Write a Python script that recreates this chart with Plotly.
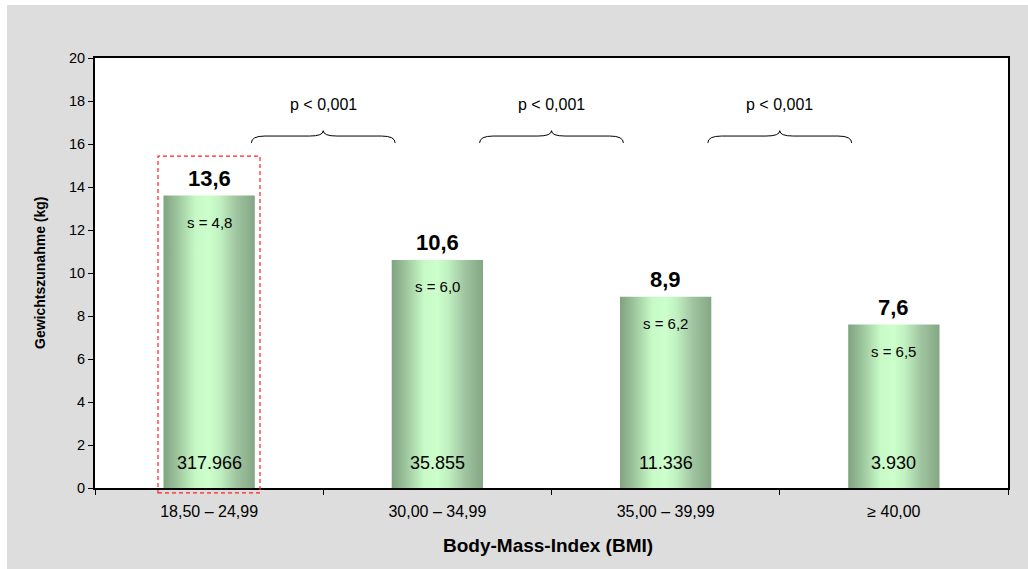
import plotly.graph_objects as go

# Data: mean weight gain per BMI group
categories = ["18,50 – 24,99", "30,00 – 34,99", "35,00 – 39,99", "≥ 40,00"]
mean_gain = [13.6, 10.6, 8.9, 7.6]
std_dev = [4.8, 6.0, 6.2, 6.5]
n_cases = [317966, 35855, 11336, 3930]
comparisons = [(0, 1), (1, 2), (2, 3)]
p_labels = ["p < 0,001", "p < 0,001", "p < 0,001"]
y_ticks = [0, 2, 4, 6, 8, 10, 12, 14, 16, 18, 20]

FONT = "Liberation Sans, Arial, sans-serif"
X_RANGE = (-0.5, 3.5)
Y_RANGE = (0, 20)
HALF_W = 0.2

# Page geometry (pixels)
WIDTH, HEIGHT = 1028, 569
M_L, M_R, M_T, M_B = 95, 20, 58, 81
W_PLOT, H_PLOT = WIDTH - M_L - M_R, HEIGHT - M_T - M_B


def de_num(v, nd=1):
    return f"{v:.{nd}f}".replace(".", ",")


def de_thousands(v):
    return f"{v:,}".replace(",", ".")


gradient = [
    [0.0, "#80a280"], [0.15, "#9cc49c"], [0.35, "#c6f9c6"], [0.5, "#ccffcc"],
    [0.62, "#c0f0c0"], [0.8, "#a0c4a0"], [1.0, "#84a684"],
]

fig = go.Figure()

# Bars drawn as filled polygons so each one can carry a horizontal gradient
for i, v in enumerate(mean_gain):
    x0, x1 = i - HALF_W, i + HALF_W
    fig.add_trace(go.Scatter(
        x=[x0, x1, x1, x0, x0], y=[0, 0, v, v, 0],
        mode="lines", fill="toself", line=dict(width=0),
        fillgradient=dict(type="horizontal", colorscale=gradient),
        hoverinfo="skip", showlegend=False,
    ))

annotations = []
for i, (v, s, n) in enumerate(zip(mean_gain, std_dev, n_cases)):
    annotations.append(dict(x=i, y=v, xref="x", yref="y", text=f"<b>{de_num(v)}</b>",
                            showarrow=False, yanchor="bottom", yshift=3,
                            font=dict(family=FONT, size=22, color="black")))
    annotations.append(dict(x=i, y=v, xref="x", yref="y", text=f"s = {de_num(s)}",
                            showarrow=False, yanchor="top", yshift=-16,
                            font=dict(family=FONT, size=15, color="black")))
    annotations.append(dict(x=i, y=0, xref="x", yref="y", text=de_thousands(n),
                            showarrow=False, yanchor="bottom", yshift=13,
                            font=dict(family=FONT, size=18, color="black")))

shapes = []
# Curly braces between neighbouring groups with p-values
BRACE_HALF = 0.315
Y_END, Y_MID, Y_TIP = 16.05, 16.37, 16.62
CURL = 0.06
for (a, b), label in zip(comparisons, p_labels):
    xc = (a + b) / 2
    xl, xr = xc - BRACE_HALF, xc + BRACE_HALF
    path = (f"M {xl},{Y_END} Q {xl},{Y_MID} {xl + CURL},{Y_MID} "
            f"L {xc - CURL},{Y_MID} Q {xc},{Y_MID} {xc},{Y_TIP} "
            f"Q {xc},{Y_MID} {xc + CURL},{Y_MID} "
            f"L {xr - CURL},{Y_MID} Q {xr},{Y_MID} {xr},{Y_END}")
    shapes.append(dict(type="path", path=path, xref="x", yref="y",
                       line=dict(color="black", width=1)))
    annotations.append(dict(x=xc, y=17.86, xref="x", yref="y", text=label,
                            showarrow=False, yanchor="middle",
                            font=dict(family=FONT, size=16, color="black")))


def px(xd):
    return (xd - X_RANGE[0]) / (X_RANGE[1] - X_RANGE[0])


def py(yd):
    return (yd - Y_RANGE[0]) / (Y_RANGE[1] - Y_RANGE[0])


# Dashed highlight around the reference group
shapes.append(dict(type="rect", xref="paper", yref="paper",
                   x0=px(-0.224), x1=px(0.223), y0=py(-0.23), y1=py(15.44),
                   line=dict(color="#ff2020", width=1.2, dash="4px,3px"),
                   layer="above"))

# Narrow white page edges at the left and top, as blank boxes
paper_left = -M_L / W_PLOT
paper_top = (HEIGHT - M_B) / H_PLOT
annotations.append(dict(x=paper_left, y=paper_top, xref="paper", yref="paper",
                        xanchor="left", yanchor="top", text=" ", showarrow=False,
                        width=7, height=HEIGHT, bgcolor="white", borderpad=0,
                        borderwidth=0))
annotations.append(dict(x=paper_left, y=paper_top, xref="paper", yref="paper",
                        xanchor="left", yanchor="top", text=" ", showarrow=False,
                        width=WIDTH, height=5, bgcolor="white", borderpad=0,
                        borderwidth=0))

# Axis titles
annotations.append(dict(x=-55 / W_PLOT, y=0.5, xref="paper", yref="paper",
                        xanchor="center", yanchor="middle",
                        text="<b>Gewichtszunahme (kg)</b>", textangle=-90,
                        showarrow=False, font=dict(family=FONT, size=14, color="black")))
annotations.append(dict(x=0.496, y=-57 / H_PLOT, xref="paper", yref="paper",
                        xanchor="center", yanchor="middle",
                        text="<b>Body-Mass-Index (BMI)</b>",
                        showarrow=False, font=dict(family=FONT, size=19, color="black")))

fig.update_layout(
    width=WIDTH, height=HEIGHT,
    margin=dict(l=M_L, r=M_R, t=M_T, b=M_B, pad=0),
    paper_bgcolor="#dddddd", plot_bgcolor="white",
    font=dict(family=FONT, size=14, color="black"),
    showlegend=False,
    shapes=shapes, annotations=annotations,
)
fig.update_xaxes(
    range=list(X_RANGE), tickvals=list(range(len(categories))), ticktext=categories,
    ticks="", showgrid=False, zeroline=False, ticklabelstandoff=8,
    showline=True, mirror=True, linecolor="black", linewidth=2,
    tickfont=dict(family=FONT, size=16, color="black"),
    minor=dict(tickvals=[k - 0.5 for k in range(len(categories) + 1)],
               ticks="outside", ticklen=5, tickcolor="black", showgrid=False),
)
fig.update_yaxes(
    range=list(Y_RANGE), tickvals=y_ticks,
    ticks="outside", ticklen=5, tickcolor="black", showgrid=False, zeroline=False,
    showline=True, mirror=True, linecolor="black", linewidth=2,
    tickfont=dict(family=FONT, size=14.5, color="black"),
)

fig.write_html("out.html")
